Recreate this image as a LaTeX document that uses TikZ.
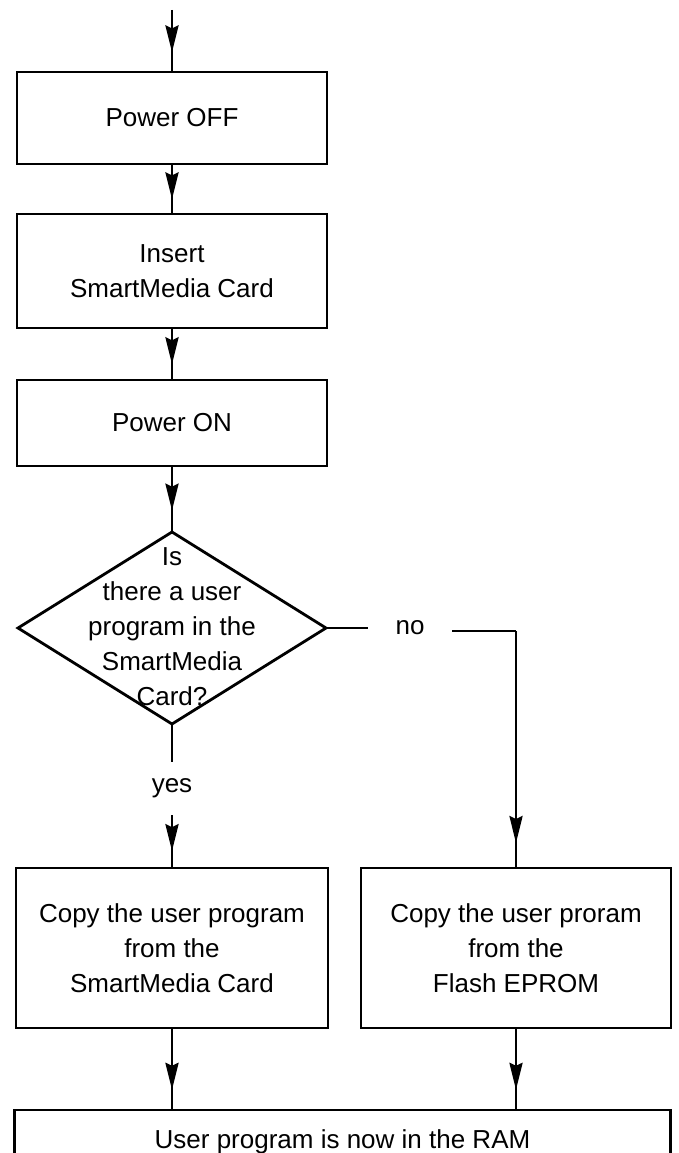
\documentclass[tikz,border=0pt]{standalone}
\usepackage{fontspec}
\setmainfont{Liberation Sans}
\usetikzlibrary{arrows.meta,decorations.markings,calc}
\tikzset{
  lw/.style={line width=2.8pt},
  box/.style={draw, lw, rectangle, inner sep=0pt, align=center, font=\fontsize{26}{35}\selectfont},
  txt/.style={inner sep=0pt, align=center, font=\fontsize{26}{35}\selectfont},
  flow/.style={lw, postaction={decorate}, decoration={markings, mark=at position #1 with {\arrow{Stealth[length=27pt,width=13pt,inset=3pt]}}}},
  flow/.default=0.7,
  plain/.style={lw}
}
\begin{document}
\begin{tikzpicture}[x=1pt,y=-1pt]
\useasboundingbox (0,0) rectangle (678,1153);
\clip (0,0) rectangle (678,1153);
% boxes
\node[box, minimum width=310pt, minimum height=92pt] (b1) at (172,118) {Power OFF};
\node[box, minimum width=310pt, minimum height=114pt] (b2) at (172,271) {Insert\\SmartMedia Card};
\node[box, minimum width=310pt, minimum height=86pt] (b3) at (172,423) {Power ON};
% diamond
\coordinate (dT) at (172,532);
\coordinate (dR) at (326,628);
\coordinate (dB) at (172,724);
\coordinate (dL) at (18,628);
\draw[lw, line join=miter] (dT) -- (dR) -- (dB) -- (dL) -- cycle;
\node[txt] (dtext) at (172,627) {Is\\there a user\\program in the\\SmartMedia\\Card?};
% labels
\node[txt, minimum height=53pt] (yes) at (172,788.5) {yes};
\node[txt, minimum width=84pt] (no) at (410,628) {no};
% lower boxes
\node[box, minimum width=312pt, minimum height=160pt] (b4) at (172,948) {Copy the user program\\from the\\SmartMedia Card};
\node[box, minimum width=310pt, minimum height=160pt] (b5) at (516,948) {Copy the user proram\\from the\\Flash EPROM};
% bottom open box
\node[txt, minimum width=655pt, minimum height=64pt, anchor=north] (ram) at (342.5,1110) {User program is now in the RAM};
\draw[lw] ([yshift=-60pt]ram.south west) -- (ram.north west) -- (ram.north east) -- ([yshift=-60pt]ram.south east);
% connectors
\coordinate (start) at (172,10);
\draw[flow=0.7] (start) -- (b1.north);
\draw[flow=0.72] (b1) -- (b2);
\draw[flow=0.71] (b2) -- (b3);
\draw[flow=0.67] (b3) -- (dT);
\draw[plain] (dB) -- (yes.north);
\draw[flow=0.7] (yes.south) -- (yes.south |- b4.north);
\draw[plain] (dR) -- (no.west);
\coordinate (n1) at ([yshift=-3pt]no.east);
\coordinate (corner) at (n1 -| b5.north);
\draw[plain] (n1) -- (corner);
\draw[flow=0.9] (corner) -- (b5.north);
\draw[flow=0.75] (b4.south) -- (b4.south |- ram.north);
\draw[flow=0.75] (b5.south) -- (b5.south |- ram.north);
\end{tikzpicture}
\end{document}
